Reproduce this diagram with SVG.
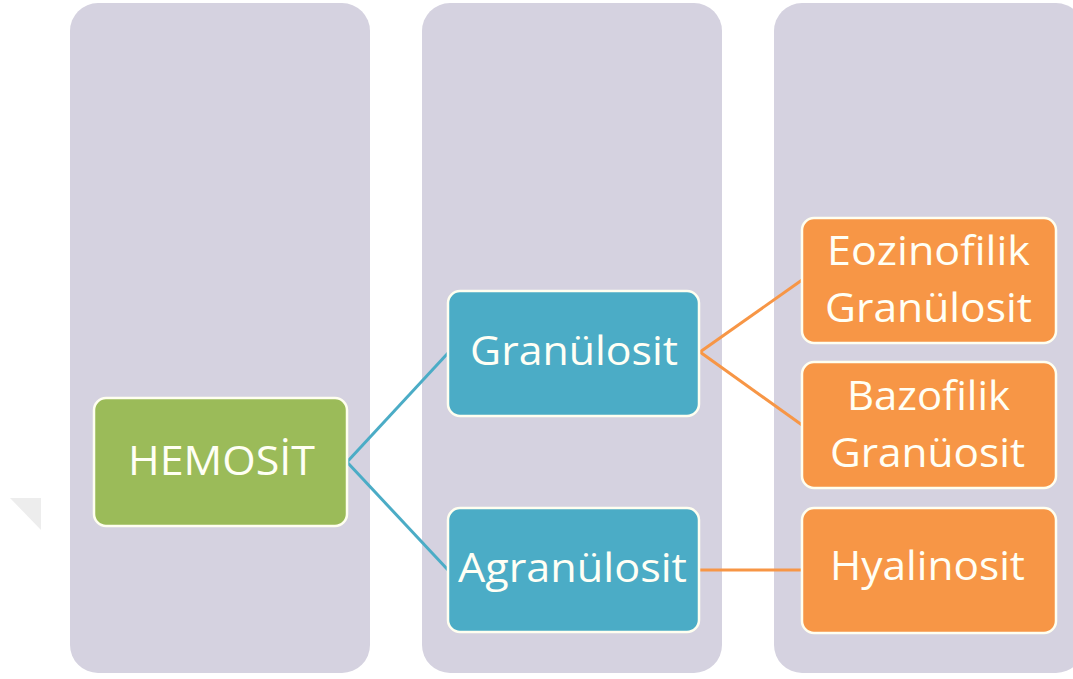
<svg xmlns="http://www.w3.org/2000/svg" width="1073" height="679" viewBox="0 0 1073 679">
<style>
.col{fill:#D5D2E0}
.box{stroke:#FFFFF0;stroke-width:2.5}
.green{fill:#9BBB59}
.blue{fill:#4BACC6}
.orange{fill:#F79646}
.t{font-family:"Open Sans","Liberation Sans",sans-serif;fill:#FFFFF5;text-anchor:middle;font-size:41px}
.cb{stroke:#4BACC6;stroke-width:3;fill:none}
.co{stroke:#F79646;stroke-width:3;fill:none}
</style>
<rect width="1073" height="679" fill="#FFFFFF"/>
<polygon points="10,498 41,498 41,530" fill="#EDEDED"/>
<g id="columns">
<rect class="col" x="70" y="3" width="300" height="670" rx="28"/>
<rect class="col" x="422" y="3" width="300" height="670" rx="28"/>
<rect class="col" x="774" y="3" width="310" height="670" rx="28"/>
</g>
<g id="connectors">
<path class="cb" d="M347,462 L448,353"/>
<path class="cb" d="M347,462 L448,570"/>
<path class="co" d="M700,352 L802,280"/>
<path class="co" d="M700,352 L802,425"/>
<path class="co" d="M700,570 L802,570"/>
</g>
<g id="hemosit">
<rect class="box green" x="94" y="398" width="253" height="128" rx="12"/>
<text class="t" x="221.5" y="475" textLength="187" lengthAdjust="spacingAndGlyphs">HEMOSİT</text>
</g>
<g id="granulosit">
<rect class="box blue" x="448" y="291" width="251" height="125" rx="12"/>
<text class="t" x="574" y="365" textLength="208" lengthAdjust="spacingAndGlyphs">Granülosit</text>
</g>
<g id="agranulosit">
<rect class="box blue" x="448" y="508" width="251" height="124" rx="12"/>
<text class="t" x="572.5" y="582" textLength="229" lengthAdjust="spacingAndGlyphs">Agranülosit</text>
</g>
<g id="eozinofilik">
<rect class="box orange" x="802" y="218" width="254" height="125" rx="12"/>
<text class="t" x="928.5" y="265" textLength="203" lengthAdjust="spacingAndGlyphs">Eozinofilik</text>
<text class="t" x="928.5" y="322" textLength="207" lengthAdjust="spacingAndGlyphs">Granülosit</text>
</g>
<g id="bazofilik">
<rect class="box orange" x="802" y="362" width="254" height="126" rx="12"/>
<text class="t" x="928.5" y="410" textLength="163" lengthAdjust="spacingAndGlyphs">Bazofilik</text>
<text class="t" x="927.5" y="467" textLength="195" lengthAdjust="spacingAndGlyphs">Granüosit</text>
</g>
<g id="hyalinosit">
<rect class="box orange" x="802" y="508" width="254" height="125" rx="12"/>
<text class="t" x="927.5" y="580" textLength="195" lengthAdjust="spacingAndGlyphs">Hyalinosit</text>
</g>
</svg>
